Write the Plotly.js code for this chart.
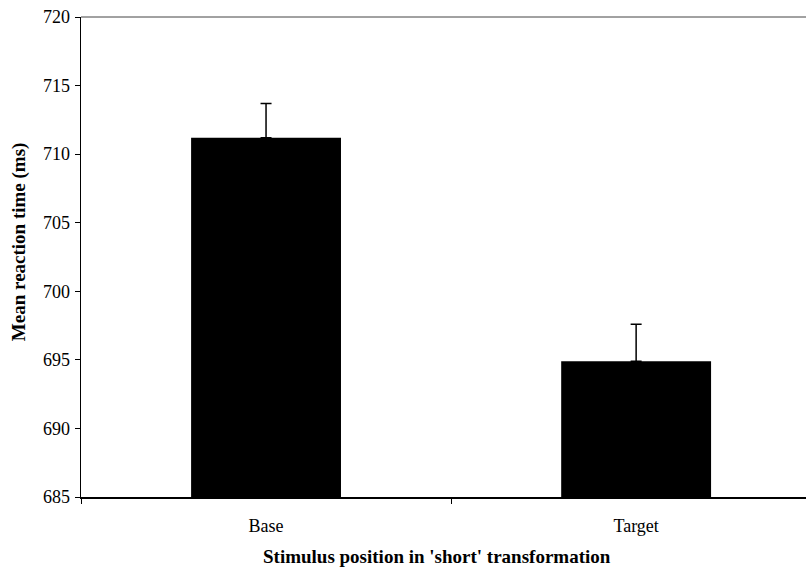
<!DOCTYPE html>
<html>
<head>
<meta charset="utf-8">
<script src="https://cdn.plot.ly/plotly-3.0.1.min.js"></script>
<style>html,body{margin:0;padding:0;background:#fff;overflow:hidden;}</style>
</head>
<body>
<div id="chart" style="width:806px;height:570px;"></div>
<script>
const categories = ["Base", "Target"];
const meanRT = [711.2, 694.9];
const errorPlus = [2.5, 2.7];
const yTicks = [685, 690, 695, 700, 705, 710, 715, 720];
const xTitle = "Stimulus position in 'short' transformation";
const yTitle = "Mean reaction time (ms)";

const font = "'Liberation Serif', serif";

const trace = {
  type: "bar",
  x: categories,
  y: meanRT,
  width: 0.405,
  marker: {color: "#000", line: {width: 0}},
  error_y: {
    type: "data",
    symmetric: false,
    array: errorPlus,
    arrayminus: [0, 0],
    color: "#000",
    thickness: 1.5,
    width: 5.5
  },
  hoverinfo: "none"
};

const layout = {
  width: 806,
  height: 570,
  margin: {l: 81, r: 0, t: 17, b: 73},
  paper_bgcolor: "#fff",
  plot_bgcolor: "#fff",
  showlegend: false,
  font: {family: font, color: "#000", size: 18},
  xaxis: {
    type: "category",
    range: [-0.5, 1.459],
    tickson: "boundaries",
    ticks: "outside",
    ticklen: 5,
    tickwidth: 1,
    tickcolor: "#000",
    showline: true,
    linecolor: "#000",
    linewidth: 1.5,
    showgrid: false,
    zeroline: false,
    ticklabelstandoff: 12,
    tickfont: {family: font, size: 18, color: "#000"}
  },
  yaxis: {
    range: [685, 720],
    tickvals: yTicks,
    ticktext: yTicks.map(String),
    ticks: "outside",
    ticklen: 5,
    tickwidth: 1,
    tickcolor: "#000",
    showline: true,
    linecolor: "#000",
    linewidth: 1.5,
    showgrid: false,
    zeroline: false,
    ticklabelstandoff: 1,
    tickfont: {family: font, size: 18, color: "#000"}
  },
  annotations: [
    {
      text: "<b>" + xTitle + "</b>",
      xref: "paper", yref: "paper",
      x: 0.491, y: -0.123,
      xanchor: "center", yanchor: "middle",
      showarrow: false,
      font: {family: font, size: 19, color: "#000"}
    },
    {
      text: "<b>" + yTitle + "</b>",
      xref: "paper", yref: "paper",
      x: -0.0855, y: 0.531,
      xanchor: "center", yanchor: "middle",
      textangle: -90,
      showarrow: false,
      font: {family: font, size: 19, color: "#000"}
    }
  ],
  shapes: [{
    type: "line", xref: "paper", yref: "paper",
    x0: 0, x1: 1, y0: 1, y1: 1,
    line: {color: "#444", width: 1}
  }]
};

Plotly.newPlot("chart", [trace], layout, {displayModeBar: false, staticPlot: true});
</script>
</body>
</html>
